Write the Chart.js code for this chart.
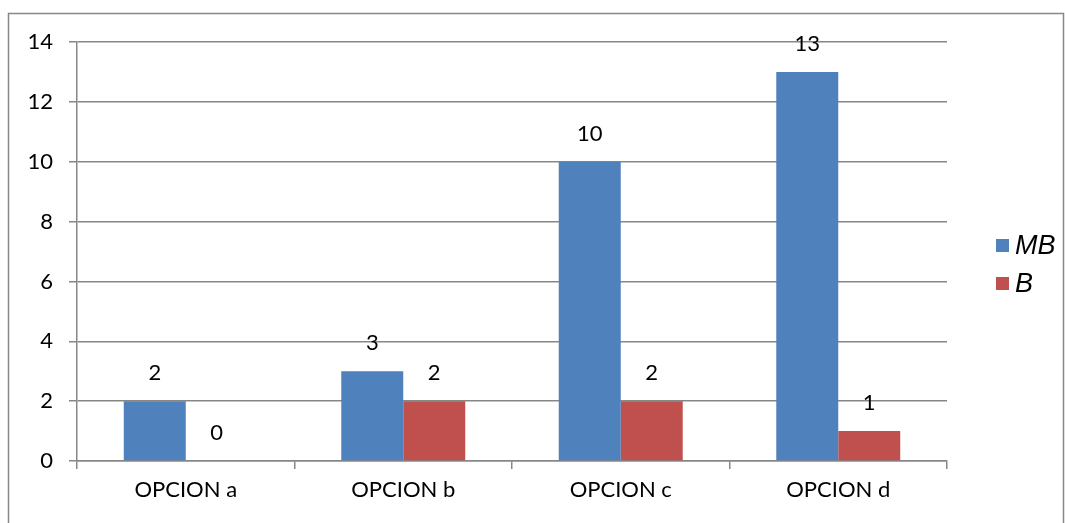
<!DOCTYPE html>
<html>
<head>
<meta charset="utf-8">
<script src="https://cdn.jsdelivr.net/npm/chart.js@4"></script>
<style>
  html, body { margin: 0; padding: 0; background: #fff; }
  #wrap { width: 1065px; height: 523px; position: relative; }
</style>
</head>
<body>
<div id="wrap"><canvas id="chart"></canvas></div>
<script>
const categories = ['OPCION a', 'OPCION b', 'OPCION c', 'OPCION d'];
const mbValues = [2, 3, 10, 13];
const bValues = [0, 2, 2, 1];
const seriesNames = ['MB', 'B'];
const yTicks = [0, 2, 4, 6, 8, 10, 12, 14];

const GRID = '#878787';
const FONT = 'Lato, "Open Sans", sans-serif';

// frame + value labels + legend on the right
const extras = {
  id: 'extras',
  afterDraw(chart) {
    const ctx = chart.ctx;
    ctx.save();
    ctx.strokeStyle = GRID;
    ctx.lineWidth = 1.5;
    ctx.strokeRect(8.5, 13.5, 1055, 530);

    ctx.fillStyle = '#000';
    ctx.font = '22px ' + FONT;
    ctx.textAlign = 'center';
    ctx.textBaseline = 'middle';
    chart.data.datasets.forEach((ds, i) => {
      chart.getDatasetMeta(i).data.forEach((bar, j) => {
        ctx.fillText(String(ds.data[j]), bar.x, bar.y - 28);
      });
    });

    ctx.textAlign = 'left';
    ctx.font = 'italic 27px "Liberation Sans", Arial, sans-serif';
    chart.data.datasets.forEach((ds, i) => {
      const y = 245 + i * 38;
      ctx.fillStyle = ds.backgroundColor;
      ctx.fillRect(996, y - 6, 13, 13);
      ctx.fillStyle = '#000';
      ctx.fillText(ds.label, 1015, y + 1);
    });
    ctx.restore();
  }
};

new Chart(document.getElementById('chart'), {
  type: 'bar',
  data: {
    labels: categories,
    datasets: [
      { label: seriesNames[0], data: mbValues, backgroundColor: '#4F81BD' },
      { label: seriesNames[1], data: bValues, backgroundColor: '#C0504D' }
    ]
  },
  options: {
    responsive: true,
    maintainAspectRatio: false,
    animation: false,
    layout: { padding: { left: 0, top: 42, right: 118, bottom: 0 } },
    datasets: { bar: { barPercentage: 1, categoryPercentage: 0.57 } },
    plugins: { legend: { display: false }, tooltip: { enabled: false } },
    scales: {
      x: {
        afterFit: s => { s.height = 62; },
        grid: { offset: true, drawOnChartArea: false, color: GRID, tickLength: 8, lineWidth: 1.5 },
        border: { color: GRID, width: 1.5 },
        ticks: { color: '#000', font: { family: FONT, size: 22 }, padding: 8 }
      },
      y: {
        min: 0,
        max: 14,
        afterFit: s => { s.width = 77; },
        afterBuildTicks: s => { s.ticks = yTicks.map(v => ({ value: v })); },
        grid: { color: GRID, tickLength: 8, lineWidth: 1.5 },
        border: { color: GRID, width: 1.5 },
        ticks: { color: '#000', font: { family: FONT, size: 22 }, padding: 16 }
      }
    }
  },
  plugins: [extras]
});
</script>
</body>
</html>
